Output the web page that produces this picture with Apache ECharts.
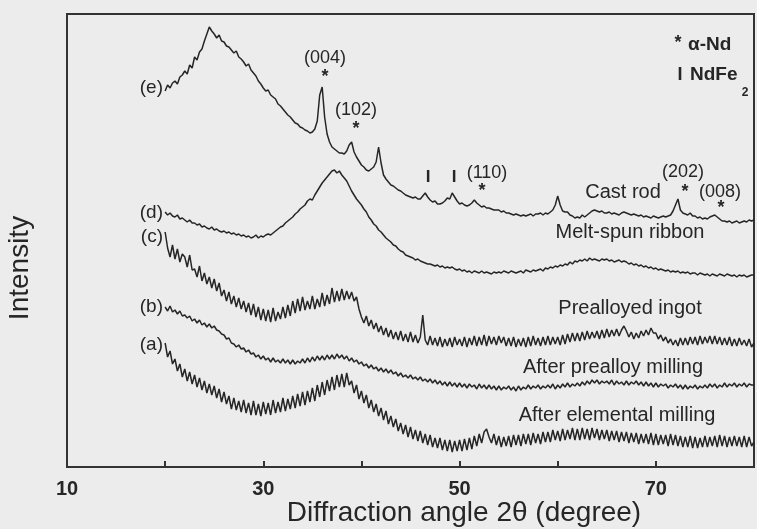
<!DOCTYPE html>
<html>
<head>
<meta charset="utf-8">
<script src="https://cdn.jsdelivr.net/npm/echarts/dist/echarts.min.js"></script>
<style>
html,body{margin:0;padding:0;background:#ececec;}
#chart{width:757px;height:529px;}
</style>
</head>
<body>
<div id="chart"></div>
<script>
// 2-theta sampling angles (degree)
const angles = [
20,20.25,20.5,20.75,21,21.25,21.5,21.75,22,22.25,22.5,22.75,23,23.25,23.5,23.75,24,24.25,24.5,24.75,
25,25.25,25.5,25.75,26,26.25,26.5,26.75,27,27.25,27.5,27.75,28,28.25,28.5,28.75,29,29.25,29.5,29.75,
30,30.25,30.5,30.75,31,31.25,31.5,31.75,32,32.25,32.5,32.75,33,33.25,33.5,33.75,34,34.25,34.5,34.75,
35,35.25,35.5,35.75,36,36.25,36.5,36.75,37,37.25,37.5,37.75,38,38.25,38.5,38.75,39,39.25,39.5,39.75,
40,40.25,40.5,40.75,41,41.25,41.5,41.75,42,42.25,42.5,42.75,43,43.25,43.5,43.75,44,44.25,44.5,44.75,
45,45.25,45.5,45.75,46,46.25,46.5,46.75,47,47.25,47.5,47.75,48,48.25,48.5,48.75,49,49.25,49.5,49.75,
50,50.25,50.5,50.75,51,51.25,51.5,51.75,52,52.25,52.5,52.75,53,53.25,53.5,53.75,54,54.25,54.5,54.75,
55,55.25,55.5,55.75,56,56.25,56.5,56.75,57,57.25,57.5,57.75,58,58.25,58.5,58.75,59,59.25,59.5,59.75,
60,60.25,60.5,60.75,61,61.25,61.5,61.75,62,62.25,62.5,62.75,63,63.25,63.5,63.75,64,64.25,64.5,64.75,
65,65.25,65.5,65.75,66,66.25,66.5,66.75,67,67.25,67.5,67.75,68,68.25,68.5,68.75,69,69.25,69.5,69.75,
70,70.25,70.5,70.75,71,71.25,71.5,71.75,72,72.25,72.5,72.75,73,73.25,73.5,73.75,74,74.25,74.5,74.75,
75,75.25,75.5,75.75,76,76.25,76.5,76.75,77,77.25,77.5,77.75,78,78.25,78.5,78.75,79,79.25,79.5,79.75,
80];

// (e) Cast rod (arbitrary intensity units, offset stacked)
const castRod = [
376,382,379,384, 386,383,390,392, 396,393,402,399, 410,407,415,418, 426,433,440,436,
433,429,432,426, 425,421,420,417, 414,416,410,408, 405,401,403,397, 394,391,386,383,
379,376,377,372, 370,368,363,361, 358,355,352,350, 347,344,343,340, 339,337,336,334,
335,338,346,372, 380,350,333,325, 320,318,316,314, 314,313,316,322, 325,315,310,306,
302,300,297,296, 298,300,305,320, 304,292,288,285, 282,281,279,277, 276,274,272,271,
270,269,270,268, 268,271,274,270, 267,265,266,263, 263,264,266,269, 268,274,270,266,
263,264,262,261, 262,264,267,264, 262,260,261,259, 259,258,257,257, 257,255,256,254,
254,253,252,253, 252,251,252,251, 252,253,251,253, 253,254,252,254, 253,255,257,262,
271,262,256,255, 255,252,251,249, 250,249,252,250, 252,254,256,257, 256,255,256,254,
254,255,253,254, 253,252,254,255, 254,253,252,253, 252,251,252,250, 251,250,249,251,
250,249,250,251, 250,251,252,256, 262,268,257,254, 253,252,254,251, 251,249,250,248,
249,248,250,251, 252,250,248,246, 246,245,246,244, 245,246,244,245, 246,245,247,246,
247];

// (d) Melt-spun ribbon
const meltSpun = [
255,252,254,251, 250,252,248,249, 247,245,247,244, 244,242,243,240, 241,239,238,240,
237,238,236,235, 236,234,235,233, 234,232,233,231, 232,230,231,229, 230,232,229,231,
230,232,233,232, 234,236,238,240, 241,244,246,248, 250,253,255,258, 260,262,266,268,
267,272,276,280, 284,287,290,293, 296,297,294,296, 292,289,286,281, 276,272,268,265,
262,258,255,250, 247,243,241,237, 235,232,229,227, 225,222,221,218, 216,215,212,211,
210,209,207,208, 206,205,204,203, 203,202,201,202, 200,201,199,200, 199,200,198,197,
198,196,197,195, 196,194,196,195, 194,196,194,195, 194,193,195,194, 195,194,196,195,
194,196,195,194, 195,196,194,197, 196,195,197,196, 197,198,196,199, 198,200,199,201,
200,202,201,203, 202,205,203,206, 205,207,206,208, 206,209,207,208, 207,206,208,207,
208,206,207,205, 206,207,205,206, 205,203,204,202, 203,201,202,200, 201,199,200,198,
199,197,198,197, 196,197,195,196, 195,196,194,195, 194,195,193,194, 194,192,194,193,
192,193,191,193, 192,191,193,192, 191,193,192,191, 192,190,192,191, 192,190,191,192,
192];

// (c) Prealloyed ingot
const preIngot = [
235,219,210,222, 208,218,205,213, 210,200,212,197, 198,190,201,186, 194,183,190,179,
188,176,184,171, 177,166,175,163, 171,160,169,158, 166,155,164,152, 163,150,160,147,
158,146,157,145, 159,146,155,148, 160,149,162,151, 166,154,168,156, 170,157,166,158,
171,158,168,160, 174,161,172,163, 179,165,176,166, 178,167,176,168, 175,166,170,158,
150,144,151,141, 147,138,144,135, 141,132,139,130, 137,128,135,127, 136,126,133,125,
135,125,132,124, 130,152,127,122, 131,122,129,121, 130,120,128,121, 129,120,130,122,
128,121,130,120, 129,122,131,121, 130,122,132,121, 131,123,130,122, 131,124,130,121,
129,121,130,120, 128,121,129,120, 130,121,131,122, 129,121,130,122, 131,122,130,123,
130,122,132,123, 133,125,134,126, 134,126,135,127, 136,128,135,129, 136,128,137,129,
138,130,137,131, 138,131,137,141, 136,130,135,128, 134,129,136,131, 137,132,139,134,
134,128,132,126, 130,124,128,122, 127,121,129,122, 129,122,130,123, 130,122,131,123,
130,124,131,123, 131,123,130,122, 129,122,130,121, 128,121,129,122, 127,121,128,120,
124];

// (b) After prealloy milling
const preMill = [
160,156,161,155, 157,153,156,151, 152,149,151,146, 148,144,147,142, 144,140,143,139,
141,137,136,133, 132,128,129,124, 123,120,122,118, 119,115,117,113, 114,110,112,108,
111,107,109,105, 109,105,107,104, 108,104,107,103, 107,103,106,104, 108,104,109,105,
110,106,111,107, 111,107,112,108, 112,108,113,109, 112,108,111,106, 109,105,107,103,
105,101,103,99, 102,98,100,96, 99,95,98,94, 97,93,95,91, 94,90,92,89,
92,88,90,87, 90,86,88,85, 88,84,87,83, 86,82,85,81, 85,81,84,80,
84,80,83,79, 83,80,82,78, 83,79,82,78, 82,78,81,77, 81,77,80,78,
81,77,80,76, 81,77,80,78, 82,78,81,79, 82,78,81,79, 82,79,83,78,
82,79,83,80, 84,80,83,81, 84,81,85,82, 86,83,87,84, 87,83,86,84,
86,83,87,82, 86,83,85,82, 86,82,85,83, 86,82,85,81, 85,81,84,80,
84,80,83,81, 83,79,82,80, 83,79,82,78, 82,78,81,79, 82,78,81,79,
82,79,83,80, 83,79,82,80, 84,80,83,81, 84,80,83,81, 84,80,83,82,
82];

// (a) After elemental milling
const elemMill = [
124,110,116,103, 108,96,103,90, 98,86,95,83, 92,80,89,77, 86,74,83,72,
81,69,78,65, 75,63,71,58, 69,57,66,55, 67,54,64,52, 66,52,63,51,
65,53,64,52, 67,54,65,55, 69,56,68,58, 71,59,73,61, 75,62,76,65,
79,66,82,70, 85,72,87,76, 90,77,92,80, 93,80,94,82, 86,74,82,68,
76,64,72,59, 67,55,63,51, 59,47,56,43, 51,40,48,36, 44,33,42,30,
40,28,37,26, 36,24,33,22, 32,20,29,19, 29,17,27,16, 27,15,26,16,
27,16,28,17, 29,18,31,21, 33,24,35,38, 30,24,33,22, 31,20,30,21,
31,20,32,22, 32,21,33,23, 33,22,34,24, 33,23,35,25, 35,25,37,27,
36,26,38,27, 37,28,39,27, 38,27,39,28, 38,27,39,29, 38,27,37,28,
37,26,36,27, 36,25,35,26, 35,24,34,25, 34,23,33,24, 33,23,34,22,
33,22,32,23, 32,21,33,22, 32,21,31,20, 30,20,31,19, 30,19,29,20,
31,20,30,21, 31,20,32,21, 31,20,30,21, 31,21,30,20, 31,20,30,21,
25];

const xTickLabels = ['10', '30', '50', '70'];
const seriesNames = ['Cast rod', 'Melt-spun ribbon', 'Prealloyed ingot', 'After prealloy milling', 'After elemental milling'];
const seriesTags = ['(e)', '(d)', '(c)', '(b)', '(a)'];
const seriesData = [castRod, meltSpun, preIngot, preMill, elemMill];

const INK = '#262626';
const FONT = "'Liberation Sans', Arial, Helvetica, sans-serif";

function txt(x, y, text, size, opts) {
  opts = opts || {};
  return {
    type: 'text', x: x, y: y, silent: true,
    rotation: opts.rotation || 0,
    style: {
      text: text, fill: INK,
      font: (opts.bold ? 'bold ' : '') + size + 'px ' + FONT,
      align: opts.align || 'center', textAlign: opts.align || 'center',
      verticalAlign: 'middle', textVerticalAlign: 'middle'
    }
  };
}

const chart = echarts.init(document.getElementById('chart'), null, {renderer: 'canvas'});
chart.setOption({
  animation: false,
  backgroundColor: '#ececec',
  grid: {left: 67, top: 14, right: -2, bottom: 62, show: true, borderColor: '#333', borderWidth: 2, backgroundColor: 'transparent'},
  xAxis: {
    type: 'value', min: 10, max: 80, interval: 10,
    axisLine: {show: true, lineStyle: {color: '#333', width: 2}},
    axisTick: {show: true, inside: true, length: 6, lineStyle: {color: '#333', width: 2}},
    splitLine: {show: false},
    axisLabel: {
      margin: 12, color: INK, fontWeight: 'bold', fontSize: 20, fontFamily: FONT,
      formatter: function (v) { const s = String(v); return xTickLabels.indexOf(s) >= 0 ? s : ''; }
    }
  },
  yAxis: {
    type: 'value', min: 0, max: 453,
    axisLine: {show: true, lineStyle: {color: '#333', width: 2}},
    axisTick: {show: false}, axisLabel: {show: false}, splitLine: {show: false}
  },
  series: seriesData.map(function (arr, k) {
    return {
      name: seriesNames[k], type: 'line', showSymbol: false, symbol: 'none',
      lineStyle: {color: INK, width: 1.5}, silent: true,
      data: angles.map(function (a, i) { return [a, arr[i]]; })
    };
  }),
  graphic: [
    txt(464, 513, 'Diffraction angle 2\u03b8 (degree)', 28),
    txt(20, 268, 'Intensity', 28, {rotation: Math.PI / 2}),
    txt(163, 88, seriesTags[0], 19, {align: 'right'}),
    txt(163, 213, seriesTags[1], 19, {align: 'right'}),
    txt(163, 237, seriesTags[2], 19, {align: 'right'}),
    txt(163, 307, seriesTags[3], 19, {align: 'right'}),
    txt(163, 345, seriesTags[4], 19, {align: 'right'}),
    txt(623, 192, seriesNames[0], 20),
    txt(630, 232, seriesNames[1], 20),
    txt(630, 308, seriesNames[2], 20),
    txt(613, 367, seriesNames[3], 20),
    txt(617, 415, seriesNames[4], 20),
    txt(325, 58, '(004)', 18), txt(325, 77, '*', 18, {bold: true}),
    txt(356, 110, '(102)', 18), txt(356, 129, '*', 18, {bold: true}),
    txt(428, 177, 'I', 17, {bold: true}),
    txt(454, 177, 'I', 17, {bold: true}),
    txt(487, 173, '(110)', 18), txt(482, 191, '*', 18, {bold: true}),
    txt(683, 172, '(202)', 18), txt(685, 192, '*', 18, {bold: true}),
    txt(720, 192, '(008)', 18), txt(721, 208, '*', 18, {bold: true}),
    txt(678, 43, '*', 18, {bold: true}),
    txt(688, 45, '\u03b1-Nd', 19, {bold: true, align: 'left'}),
    txt(680, 75, 'I', 18, {bold: true}),
    txt(690, 75, 'NdFe', 19, {bold: true, align: 'left'}),
    txt(745, 93, '2', 12, {bold: true})
  ]
});
</script>
</body>
</html>
